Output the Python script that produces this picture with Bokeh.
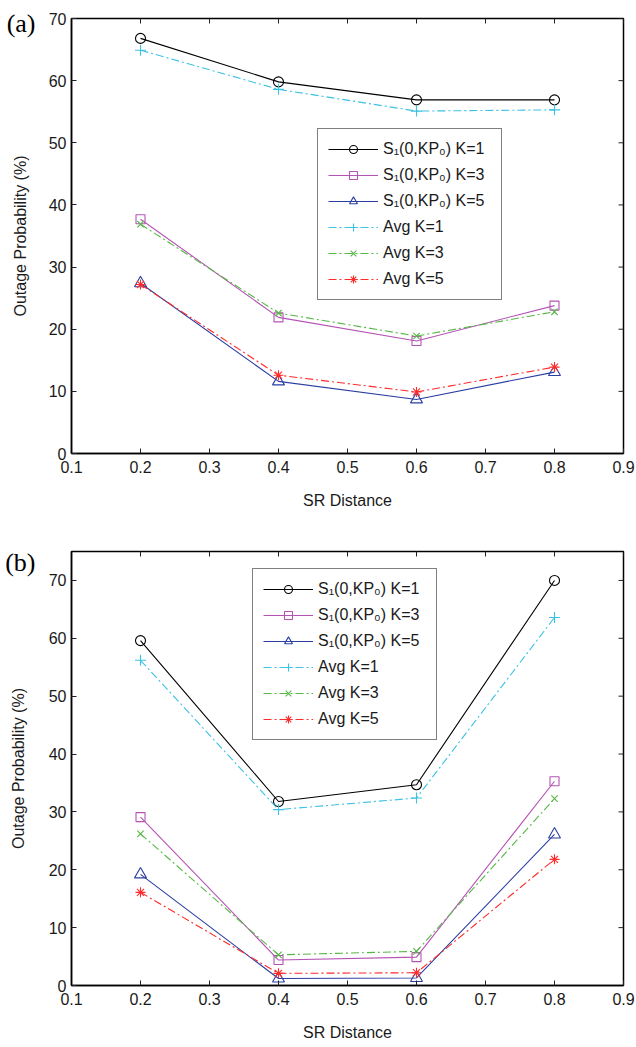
import math
from bokeh.plotting import figure
from bokeh.models import (FixedTicker, Range1d, Legend, LegendItem, Grid, LinearAxis)
from bokeh.layouts import column
from bokeh.embed import file_html
from bokeh.resources import INLINE

# ---------------- data ----------------
sr_distance = [0.2, 0.4, 0.6, 0.8]
x_ticks = [0.1, 0.2, 0.3, 0.4, 0.5, 0.6, 0.7, 0.8, 0.9]
y_ticks = [0, 10, 20, 30, 40, 50, 60, 70]

series_names = ["S\u2081(0,KP\u2080) K=1", "S\u2081(0,KP\u2080) K=3", "S\u2081(0,KP\u2080) K=5",
                "Avg K=1", "Avg K=3", "Avg K=5"]

# panel (a)
a_s1_k1 = [66.8, 59.8, 56.9, 56.9]
a_s1_k3 = [37.7, 21.9, 18.1, 23.8]
a_s1_k5 = [27.4, 11.6, 8.7, 13.1]
a_avg_k1 = [64.9, 58.6, 55.1, 55.3]
a_avg_k3 = [36.9, 22.6, 18.9, 22.8]
a_avg_k5 = [27.2, 12.6, 9.9, 13.9]

# panel (b)
b_s1_k1 = [59.6, 31.8, 34.7, 70.0]
b_s1_k3 = [29.1, 4.4, 4.9, 35.3]
b_s1_k5 = [19.2, 1.2, 1.3, 26.1]
b_avg_k1 = [56.2, 30.4, 32.4, 63.6]
b_avg_k3 = [26.2, 5.3, 5.9, 32.3]
b_avg_k5 = [16.1, 2.1, 2.2, 21.8]

# ---------------- styles ----------------
colors = ["#000000", "#b553b5", "#2b3fa3", "#3cc2e2", "#55b845", "#ff2a2a"]
markers = ["circle", "square", "triangle", "cross", "x", "asterisk"]
msizes = [10, 9, 12, 11, 9, 10]
dashes = ["solid", "solid", "solid", "8 3 2 3", "8 3 2 3", "8 3 2 3"]

FONT = "Liberation Sans"
FW = 552
BL = 71


def make_panel(series, ymax, frame_h, tag, legend_xy, border_top, border_bottom, tag_dy):
    x0, x1 = 0.1, 0.9
    p = figure(frame_width=FW, frame_height=frame_h,
               x_range=Range1d(x0, x1), y_range=Range1d(0, ymax),
               output_backend="svg", toolbar_location=None,
               min_border_left=BL, min_border_right=12, min_border_top=border_top,
               min_border_bottom=border_bottom)
    p.center = [r for r in p.center if not isinstance(r, Grid)]
    p.outline_line_color = "black"
    p.outline_line_width = 1.5
    p.background_fill_color = "white"

    for ax, ticks in ((p.xaxis[0], x_ticks), (p.yaxis[0], y_ticks)):
        ax.ticker = FixedTicker(ticks=ticks)
        ax.major_tick_in = 5
        ax.major_tick_out = 0
        ax.minor_tick_line_color = None
        ax.axis_line_width = 1.5
        ax.axis_line_color = "black"
        ax.major_tick_line_color = "#222222"
        ax.major_label_text_font = FONT
        ax.major_label_text_font_size = "16px"
        ax.major_label_text_color = "#1a1a1a"
        ax.axis_label_text_font = FONT
        ax.axis_label_text_font_size = "16px"
        ax.axis_label_text_font_style = "normal"
        ax.axis_label_text_color = "#1a1a1a"
    p.xaxis[0].major_label_standoff = 7
    p.yaxis[0].major_label_standoff = 5
    p.xaxis[0].axis_label = "SR Distance"
    p.xaxis[0].axis_label_standoff = 16
    p.xaxis[0].major_label_overrides = {t: ("%.1f" % t) for t in x_ticks}

    # outer left axis: carries the panel tag "(a)"/"(b)" as its only tick label
    # and the y-axis title (pulled back over the tag column with a negative standoff)
    tag_y = ymax - tag_dy / frame_h * ymax
    outer = LinearAxis(ticker=FixedTicker(ticks=[tag_y]),
                       major_label_overrides={tag_y: tag},
                       axis_line_color=None, major_tick_line_color=None,
                       minor_tick_line_color=None, major_tick_in=0, major_tick_out=0,
                       major_label_standoff=10,
                       major_label_text_font="Liberation Serif",
                       major_label_text_font_size="26px",
                       major_label_text_color="black",
                       axis_label="Outage Probability (%)",
                       axis_label_standoff=-25,
                       axis_label_text_font=FONT, axis_label_text_font_size="16px",
                       axis_label_text_font_style="normal", axis_label_text_color="#1a1a1a")
    p.add_layout(outer, "left")

    # mirrored inward ticks on top and right edges (half of each dash is clipped by the frame)
    p.scatter(x_ticks, [ymax] * len(x_ticks), marker="dash", angle=math.pi / 2, size=10,
              line_color="#222222", line_width=1)
    p.scatter([x1] * len(y_ticks), y_ticks, marker="dash", size=10,
              line_color="#222222", line_width=1)

    items = []
    for name, ys, c, m, s, d in zip(series_names, series, colors, markers, msizes, dashes):
        lr = p.line(sr_distance, ys, line_color=c, line_width=1.1, line_dash=d)
        sr = p.scatter(sr_distance, ys, marker=m, size=s, line_color=c, fill_color=None,
                       line_width=1.1)
        items.append(LegendItem(label=name, renderers=[lr, sr]))

    leg = Legend(items=items, location=legend_xy,
                 border_line_color="black", border_line_width=1.5,
                 background_fill_color="white", background_fill_alpha=1.0,
                 label_text_font=FONT, label_text_font_size="16px",
                 label_text_color="#1a1a1a",
                 glyph_width=50, glyph_height=20, label_height=20, label_width=108,
                 label_standoff=5, spacing=6, padding=10, margin=0)
    p.add_layout(leg, "center")
    return p


pa = make_panel([a_s1_k1, a_s1_k3, a_s1_k5, a_avg_k1, a_avg_k3, a_avg_k5],
                70, 435, "(a)", (246, 153), 18, 88, 5)
pb = make_panel([b_s1_k1, b_s1_k3, b_s1_k5, b_avg_k1, b_avg_k3, b_avg_k5],
                75, 434, "(b)", (181, 245), 10, 62, 11)

layout = column(pa, pb, spacing=0)
open("out.html", "w").write(file_html(layout, INLINE))
